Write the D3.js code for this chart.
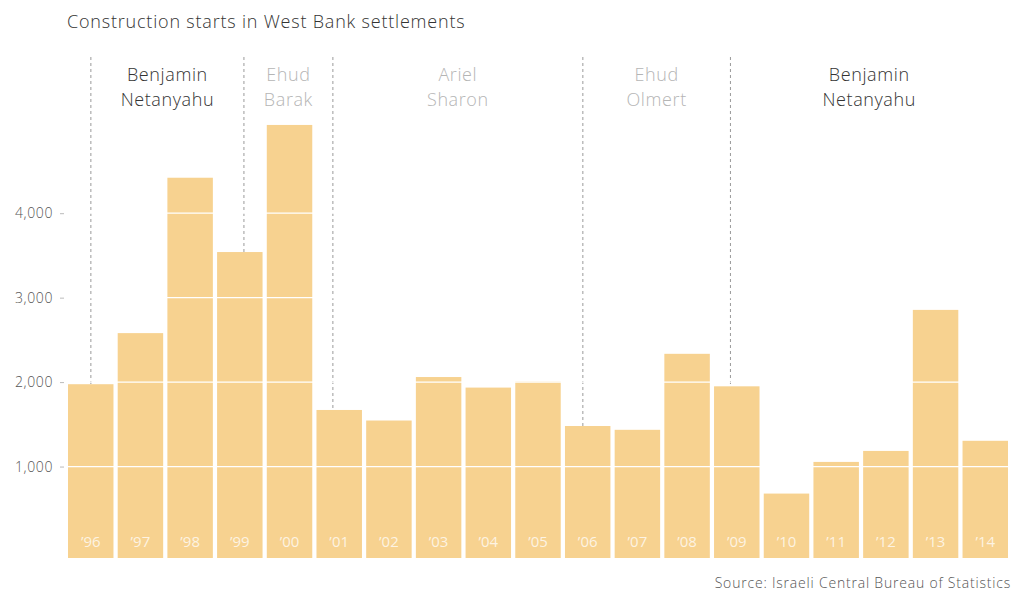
<!DOCTYPE html>
<html>
<head>
<meta charset="utf-8">
<script src="https://cdn.jsdelivr.net/npm/d3@7"></script>
<style>
  html, body { margin: 0; padding: 0; background: #fff; }
  svg { display: block; font-family: "Open Sans", Roboto, sans-serif; }
</style>
</head>
<body>
<svg id="chart" width="1013" height="592"></svg>
<script>
const years = ["1996","1997","1998","1999","2000","2001","2002","2003","2004","2005","2006","2007","2008","2009","2010","2011","2012","2013","2014"];
const yearLabels = ["’96","’97","’98","’99","’00","’01","’02","’03","’04","’05","’06","’07","’08","’09","’10","’11","’12","’13","’14"];
const starts = [1975, 2580, 4420, 3540, 5045, 1670, 1545, 2060, 1935, 2005, 1480, 1435, 2335, 1950, 680, 1055, 1185, 2855, 1305];
const yTicks = [1000, 2000, 3000, 4000];
const leaderNames = [["Benjamin","Netanyahu"],["Ehud","Barak"],["Ariel","Sharon"],["Ehud","Olmert"],["Benjamin","Netanyahu"]];
const leaderStart = [1996.46, 1999.54, 2001.33, 2006.36, 2009.33];
const leaderHighlight = [true, false, false, false, true];

const svg = d3.select("#chart");
const left = 68, right = 1008, zeroY = 551, barBottom = 558;

const x = d3.scaleBand().domain(years).range([left, right]).paddingInner(0.085).paddingOuter(0);
const y = d3.scaleLinear().domain([0, 5000]).range([zeroY, zeroY - 5000 * 0.08445]);
const t = d3.scaleLinear().domain([1996, 1997]).range([x("1996"), x("1996") + x.step()]);

// title
svg.append("text").attr("x", 67).attr("y", 28)
  .attr("font-size", 18).attr("font-weight", 300).attr("fill", "#333")
  .attr("letter-spacing", 0.8)
  .text("Construction starts in West Bank settlements");

// leader dividers (behind bars)
const divs = svg.append("g");
leaderStart.forEach(s => {
  divs.append("line")
    .attr("x1", t(s)).attr("x2", t(s))
    .attr("y1", 57).attr("y2", barBottom + 3)
    .attr("stroke", "#9a9a9a").attr("stroke-width", 1)
    .attr("stroke-dasharray", "3,3");
});

// leader labels
leaderNames.forEach((nm, i) => {
  const a = t(leaderStart[i]);
  const b = i < leaderStart.length - 1 ? t(leaderStart[i + 1]) : right;
  const cx = (a + b) / 2;
  const txt = svg.append("text").attr("x", cx).attr("text-anchor", "middle")
    .attr("font-size", 18).attr("font-weight", 300).attr("letter-spacing", 0.6)
    .attr("fill", leaderHighlight[i] ? "#333" : "#b5b5b5");
  txt.append("tspan").attr("x", cx).attr("y", 81).text(nm[0]);
  txt.append("tspan").attr("x", cx).attr("y", 106).text(nm[1]);
});

// bars
svg.append("g").selectAll("rect").data(years).join("rect")
  .attr("x", d => x(d))
  .attr("width", x.bandwidth())
  .attr("y", (d, i) => y(starts[i]))
  .attr("height", (d, i) => barBottom - y(starts[i]))
  .attr("fill", "#f7d290");

// white gridlines over bars
svg.append("g").selectAll("line").data(yTicks).join("line")
  .attr("x1", left).attr("x2", right)
  .attr("y1", d => y(d)).attr("y2", d => y(d))
  .attr("stroke", "#fff").attr("stroke-width", 1.3);

// y axis
const yAxis = d3.axisLeft(y).tickValues(yTicks).tickFormat(d3.format(",")).tickSize(4).tickPadding(7);
const ya = svg.append("g").attr("transform", "translate(64,0)").call(yAxis);
ya.select(".domain").remove();
ya.selectAll(".tick line").attr("stroke", "#bbb");
ya.selectAll(".tick text").attr("font-size", 14).attr("fill", "#555")
  .attr("font-family", "'Open Sans', sans-serif").attr("font-weight", 300)
  .attr("letter-spacing", 0.6);

// year labels inside bars
svg.append("g").selectAll("text").data(years).join("text")
  .attr("x", d => x(d) + x.bandwidth() / 2)
  .attr("y", 547)
  .attr("text-anchor", "middle")
  .attr("font-size", 15).attr("font-weight", 400)
  .attr("fill", "#fff").attr("fill-opacity", 0.75)
  .text((d, i) => yearLabels[i]);

// source
svg.append("text").attr("x", 1011).attr("y", 588).attr("text-anchor", "end")
  .attr("font-size", 14).attr("font-weight", 300).attr("fill", "#555")
  .attr("letter-spacing", 0.8)
  .text("Source: Israeli Central Bureau of Statistics");
</script>
</body>
</html>
